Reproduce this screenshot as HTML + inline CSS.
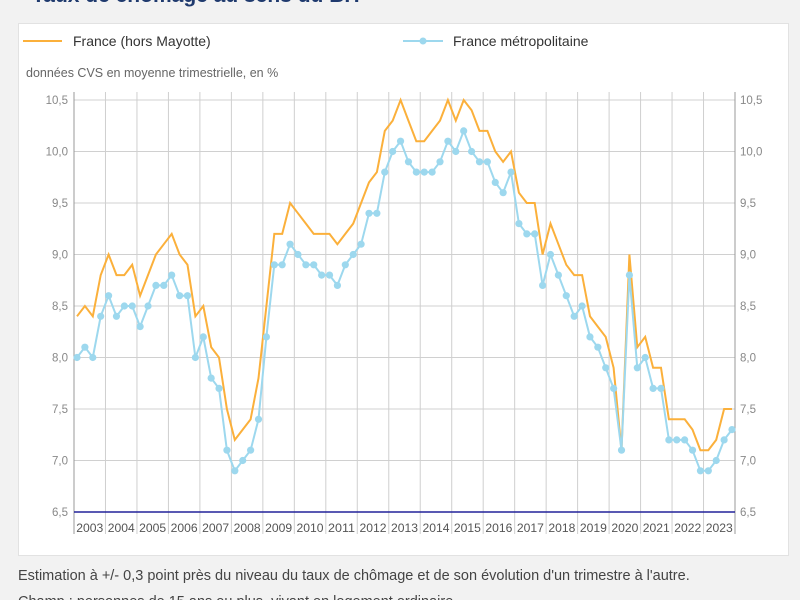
<!DOCTYPE html>
<html><head><meta charset="utf-8">
<style>
body{margin:0;width:800px;height:600px;overflow:hidden;background:#f2f2f2;font-family:"Liberation Sans",sans-serif;}
svg{position:absolute;left:0;top:0}
</style></head>
<body>
<svg id="chart" width="800" height="600">
<text x="32" y="2" font-size="21" font-weight="bold" fill="#1f3a6e">Taux de chômage au sens du BIT</text>
<rect x="18.5" y="23.5" width="770" height="532" fill="#fff" stroke="#e2e2e2"/>
<g>
<line x1="23" y1="41" x2="62" y2="41" stroke="#fbb03b" stroke-width="2"/>
<text x="73" y="46" font-size="14" fill="#333">France (hors Mayotte)</text>
</g>
<g>
<line x1="403" y1="41" x2="443" y2="41" stroke="#9dd8ee" stroke-width="2"/>
<circle cx="423" cy="41" r="3.5" fill="#9dd8ee"/>
<text x="453" y="46" font-size="14" fill="#333">France métropolitaine</text>
</g>
<text x="26" y="77" font-size="12.5" fill="#666">données CVS en moyenne trimestrielle, en %</text>
<g id="grid"></g><g id="series"></g>
<text x="18" y="580" font-size="14.5" fill="#444">Estimation à +/- 0,3 point près du niveau du taux de chômage et de son évolution d'un trimestre à l'autre.</text>
<text x="18" y="606" font-size="14.5" fill="#444">Champ : personnes de 15 ans ou plus, vivant en logement ordinaire.</text>
</svg>
<script>
const years=[2003,2004,2005,2006,2007,2008,2009,2010,2011,2012,2013,2014,2015,2016,2017,2018,2019,2020,2021,2022,2023];
const yTicks=[6.5,7.0,7.5,8.0,8.5,9.0,9.5,10.0,10.5];
const yTickLabels=["6,5","7,0","7,5","8,0","8,5","9,0","9,5","10,0","10,5"];
const franceValues=[8.4,8.5,8.4,8.8,9.0,8.8,8.8,8.9,8.6,8.8,9.0,9.1,9.2,9.0,8.9,8.4,8.5,8.1,8.0,7.5,7.2,7.3,7.4,7.8,8.5,9.2,9.2,9.5,9.4,9.3,9.2,9.2,9.2,9.1,9.2,9.3,9.5,9.7,9.8,10.2,10.3,10.5,10.3,10.1,10.1,10.2,10.3,10.5,10.3,10.5,10.4,10.2,10.2,10.0,9.9,10.0,9.6,9.5,9.5,9.0,9.3,9.1,8.9,8.8,8.8,8.4,8.3,8.2,7.9,7.1,9.0,8.1,8.2,7.9,7.9,7.4,7.4,7.4,7.3,7.1,7.1,7.2,7.5,7.5];
const metroValues=[8.0,8.1,8.0,8.4,8.6,8.4,8.5,8.5,8.3,8.5,8.7,8.7,8.8,8.6,8.6,8.0,8.2,7.8,7.7,7.1,6.9,7.0,7.1,7.4,8.2,8.9,8.9,9.1,9.0,8.9,8.9,8.8,8.8,8.7,8.9,9.0,9.1,9.4,9.4,9.8,10.0,10.1,9.9,9.8,9.8,9.8,9.9,10.1,10.0,10.2,10.0,9.9,9.9,9.7,9.6,9.8,9.3,9.2,9.2,8.7,9.0,8.8,8.6,8.4,8.5,8.2,8.1,7.9,7.7,7.1,8.8,7.9,8.0,7.7,7.7,7.2,7.2,7.2,7.1,6.9,6.9,7.0,7.2,7.3];

const NS="http://www.w3.org/2000/svg";
const X0=74,X1=735,Y0=512,Y1=100,VMIN=6.5,VMAX=10.5;
const yScale=v=>Y0-(v-VMIN)/(VMAX-VMIN)*(Y0-Y1);
const yearW=(X1-X0)/years.length;
const xIdx=i=>77+i*(655/83);
function mk(tag,attrs,parent){const e=document.createElementNS(NS,tag);for(const k in attrs)e.setAttribute(k,attrs[k]);parent.appendChild(e);return e;}
const grid=document.getElementById('grid'),series=document.getElementById('series');

yTicks.forEach((v,k)=>{
  const y=yScale(v);
  const l=mk('line',{x1:X0,x2:X1,y1:y,y2:y,stroke:'#d0d0d0','stroke-width':1},grid);
  
  
  const t=mk('text',{x:68,y:y+4,'font-size':11.5,fill:'#888','text-anchor':'end'},grid);
  t.textContent=yTickLabels[k];
  
  
  const t2=mk('text',{x:740,y:y+4,'font-size':11.5,fill:'#888'},grid);
  t2.textContent=yTickLabels[k];
  
  
});
for(let k=0;k<=years.length;k++){
  const x=X0+k*yearW;
  const l=mk('line',{x1:x,x2:x,y1:Y1-8,y2:534,stroke:(k==0||k==years.length)?'#999':'#cfcfcf','stroke-width':1},grid);
  
  
}
years.forEach((yr,k)=>{
  const t=mk('text',{x:X0+(k+0.5)*yearW,y:532,'font-size':12,fill:'#555','text-anchor':'middle',textLength:27,lengthAdjust:'spacingAndGlyphs'},grid);
  t.textContent=yr;
  
  
});
const ax=mk('line',{x1:X0,x2:X1,y1:Y0,y2:Y0,stroke:'#22229a','stroke-width':1.5},grid);



const pf=franceValues.map((v,i)=>xIdx(i).toFixed(1)+','+yScale(v).toFixed(1)).join(' ');
const lf=mk('polyline',{points:pf,fill:'none',stroke:'#fbb03b','stroke-width':2,'stroke-linejoin':'miter'},series);


const pm=metroValues.map((v,i)=>xIdx(i).toFixed(1)+','+yScale(v).toFixed(1)).join(' ');
const lm=mk('polyline',{points:pm,fill:'none',stroke:'#9dd8ee','stroke-width':2},series);


metroValues.forEach((v,i)=>{
  const c=mk('circle',{cx:xIdx(i),cy:yScale(v),r:3.6,fill:'#9dd8ee'},series);
  
  
});
</script>
</body></html>
